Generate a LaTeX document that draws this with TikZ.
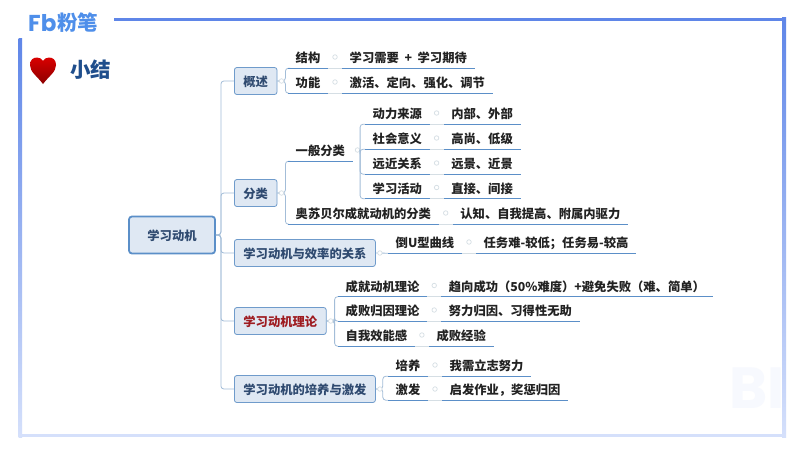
\documentclass[tikz,border=0pt]{standalone}
\usepackage{fontspec}
\setmainfont{Noto Sans CJK SC}
\newfontfamily\logofont{Poppins}
\usetikzlibrary{positioning}

\definecolor{framecol}{HTML}{5F86E8}
\definecolor{framepale}{HTML}{D5E0FB}
\definecolor{boxfill}{HTML}{DFE8F3}
\definecolor{boxline}{HTML}{6F9BCB}
\definecolor{rootline}{HTML}{5B8FC8}
\definecolor{boxtext}{HTML}{2F4A70}
\definecolor{ulinecol}{HTML}{5B8FC8}
\definecolor{branchcol}{HTML}{A3BDD8}
\definecolor{palecol}{HTML}{D5DEE4}
\definecolor{theorycol}{HTML}{9E1B20}
\definecolor{titlecol}{HTML}{1F4E8C}
\definecolor{logocol}{HTML}{4F8FEA}
\definecolor{leafcol}{HTML}{222222}

\tikzset{
	cjktext/.style = {font=\fontsize{12.3}{14}\selectfont\bfseries, text height=12.5pt, text depth=1pt},
	root/.style = {cjktext, draw=rootline, line width=1.8pt, fill=boxfill, text=boxtext, rounded corners=3pt, minimum width=86pt, minimum height=37pt},
	topic/.style = {cjktext, draw=boxline, line width=0.8pt, fill=boxfill, text=boxtext, rounded corners=2.5pt, inner xsep=9pt, inner ysep=0pt, minimum height=27pt, anchor=west},
	leaf/.style = {cjktext, text=leafcol, inner xsep=7.5pt, inner ysep=0pt, minimum height=22pt, anchor=west},
	uline/.style = {draw=ulinecol, line width=1pt},
	branch/.style = {draw=branchcol, line width=0.8pt, rounded corners=3pt},
	pale/.style = {draw=palecol, line width=0.8pt},
	knob/.style = {circle, draw=palecol, fill=white, line width=0.7pt, inner sep=0pt, minimum size=4.5pt}
}

\begin{document}
\begin{tikzpicture}[x=1pt, y=-1pt]
	\useasboundingbox[fill=white] (0,0) rectangle (800,450);
	% watermark
	\node[font=\fontsize{58}{58}\selectfont\bfseries\logofont, text=framepale!20, anchor=west, inner sep=0pt] (mark) at (729,388) {BI};
	% frame
	\shade[top color=framecol, bottom color=framepale] (18.5,38) rectangle (22,437);
	\shade[top color=framecol, bottom color=framepale] (782,17.5) rectangle (786,437);
	\fill[framepale] (18.5,433.5) rectangle (786,437);
	\fill[framecol] (114,17.5) rectangle (786,21);
	% logo and title
	\node[font=\fontsize{23}{23}\selectfont\bfseries\logofont, text=logocol, inner sep=0pt, anchor=west] (logo) at (28,23) {Fb};
	\node[font=\fontsize{20.5}{22}\selectfont\bfseries, text=logocol, inner sep=0pt, anchor=west] (brand) at (57,23) {粉笔};
	\shade[top color=red!85!black, bottom color=red!55!black] (43,84) .. controls (37,76) and (30,72) .. (30,65) .. controls (30,60) and (33,57.5) .. (37,57.5) .. controls (40,57.5) and (42,59) .. (43,61) .. controls (44,59) and (46,57.5) .. (49,57.5) .. controls (53,57.5) and (56,60) .. (56,65) .. controls (56,72) and (49,76) .. (43,84) -- cycle;
	\node[font=\fontsize{20.5}{22}\selectfont\bfseries, text=titlecol, inner sep=0pt, anchor=west] (title) at (70,70) {小结};

	% root and topics
	\node[root] (r) at (172,235) {学习动机};
	\node[topic] (t1) at (234,81) {概述};
	\node[topic] (t2) at (234,193) {分类};
	\node[topic] (t3) at (234,253) {学习动机与效率的关系};
	\node[topic, text=theorycol] (t4) at (234,321) {学习动机理论};
	\node[topic] (t5) at (234,389) {学习动机的培养与激发};
	\draw[branch] (r.east) -- ++(5,0) |- (t1.west);
	\draw[branch] (r.east) -- ++(5,0) |- (t2.west);
	\draw[branch] (r.east) -- ++(5,0) |- (t3.west);
	\draw[branch] (r.east) -- ++(5,0) |- (t4.west);
	\draw[branch] (r.east) -- ++(5,0) |- (t5.west);

	% overview
	\node[leaf] (a1) at (288,57) {结构};
	\node[leaf, right=14pt of a1] (a1v) {学习需要~~+~~学习期待};
	\node[leaf] (a2) at (288,82) {功能};
	\node[leaf, right=14pt of a2] (a2v) {激活、定向、强化、调节};
	\draw[branch] (t1.east) -- ++(8,0) |- (a1.south west);
	\draw[branch] (t1.east) -- ++(8,0) |- (a2.south west);

	% classes
	\node[leaf] (b1) at (288,150) {一般分类};
	\node[leaf] (b2) at (288,213) {奥苏贝尔成就动机的分类};
	\node[leaf, right=14pt of b2] (b2v) {认知、自我提高、附属内驱力};
	\draw[branch] (t2.east) -- ++(8,0) |- (b1.south west);
	\draw[branch] (t2.east) -- ++(8,0) |- (b2.south west);
	\node[knob] (k0) at (357.5,150) {};
	\node[leaf] (c1) at (365,113) {动力来源};
	\node[leaf, right=14pt of c1] (c1v) {内部、外部};
	\node[leaf] (c2) at (365,138) {社会意义};
	\node[leaf, right=14pt of c2] (c2v) {高尚、低级};
	\node[leaf] (c3) at (365,163) {远近关系};
	\node[leaf, right=14pt of c3] (c3v) {远景、近景};
	\node[leaf] (c4) at (365,187.5) {学习活动};
	\node[leaf, right=14pt of c4] (c4v) {直接、间接};
	\draw[branch] (c1.south west) -| (k0.east);
	\draw[branch] (c2.south west) -| (k0.east);
	\draw[branch] (c3.south west) -| (k0.east);
	\draw[branch] (c4.south west) -| (k0.east);

	% efficiency
	\node[leaf] (d1) at (388,242) {倒U型曲线};
	\node[leaf, right=14pt of d1] (d1v) {任务难-较低；任务易-较高};
	\draw[branch] (t3.east) -- (d1.south west);

	% theories
	\node[leaf] (e1) at (338,285.5) {成就动机理论};
	\node[leaf, right=14pt of e1] (e1v) {趋向成功（50\%难度）+避免失败（难、简单）};
	\node[leaf] (e2) at (338,310) {成败归因理论};
	\node[leaf, right=14pt of e2] (e2v) {努力归因、习得性无助};
	\node[leaf] (e3) at (338,335) {自我效能感};
	\node[leaf, right=14pt of e3] (e3v) {成败经验};
	\draw[branch] (t4.east) -- ++(8,0) |- (e1.south west);
	\draw[branch] (t4.east) -- ++(8,0) |- (e2.south west);
	\draw[branch] (t4.east) -- ++(8,0) |- (e3.south west);

	% fostering
	\node[leaf] (f1) at (388,365) {培养};
	\node[leaf, right=14pt of f1] (f1v) {我需立志努力};
	\node[leaf] (f2) at (388,389) {激发};
	\node[leaf, right=14pt of f2] (f2v) {启发作业，奖惩归因};
	\draw[branch] (t5.east) -- ++(7,0) |- (f1.south west);
	\draw[branch] (t5.east) -- ++(7,0) |- (f2.south west);

	% knobs on the topics
	\node[knob, right=1.5pt of t1] (kt1) {};
	\node[knob, right=1.5pt of t2] (kt2) {};
	\node[knob, right=1.5pt of t3] (kt3) {};
	\node[knob, right=1.5pt of t4] (kt4) {};
	\node[knob, right=1.5pt of t5] (kt5) {};

	% underlines of the leaves
	\draw[uline] (a1.south west) -- (a1.south east);
	\draw[uline] (a1v.south west) -- (a1v.south east);
	\draw[uline] (a2.south west) -- (a2.south east);
	\draw[uline] (a2v.south west) -- (a2v.south east);
	\draw[uline] (b1.south west) -- (b1.south east);
	\draw[uline] (b2.south west) -- (b2.south east);
	\draw[uline] (b2v.south west) -- (b2v.south east);
	\draw[uline] (c1.south west) -- (c1.south east);
	\draw[uline] (c1v.south west) -- (c1v.south east);
	\draw[uline] (c2.south west) -- (c2.south east);
	\draw[uline] (c2v.south west) -- (c2v.south east);
	\draw[uline] (c3.south west) -- (c3.south east);
	\draw[uline] (c3v.south west) -- (c3v.south east);
	\draw[uline] (c4.south west) -- (c4.south east);
	\draw[uline] (c4v.south west) -- (c4v.south east);
	\draw[uline] (d1.south west) -- (d1.south east);
	\draw[uline] (d1v.south west) -- (d1v.south east);
	\draw[uline] (e1.south west) -- (e1.south east);
	\draw[uline] (e1v.south west) -- (e1v.south east);
	\draw[uline] (e2.south west) -- (e2.south east);
	\draw[uline] (e2v.south west) -- (e2v.south east);
	\draw[uline] (e3.south west) -- (e3.south east);
	\draw[uline] (e3v.south west) -- (e3v.south east);
	\draw[uline] (f1.south west) -- (f1.south east);
	\draw[uline] (f1v.south west) -- (f1v.south east);
	\draw[uline] (f2.south west) -- (f2.south east);
	\draw[uline] (f2v.south west) -- (f2v.south east);

	% pale links with their knobs
	\draw[pale] (a1.south east) -- (a1v.south west);
	\draw[pale] (a2.south east) -- (a2v.south west);
	\draw[pale] (b2.south east) -- (b2v.south west);
	\draw[pale] (c1.south east) -- (c1v.south west);
	\draw[pale] (c2.south east) -- (c2v.south west);
	\draw[pale] (c3.south east) -- (c3v.south west);
	\draw[pale] (c4.south east) -- (c4v.south west);
	\draw[pale] (d1.south east) -- (d1v.south west);
	\draw[pale] (e1.south east) -- (e1v.south west);
	\draw[pale] (e2.south east) -- (e2v.south west);
	\draw[pale] (e3.south east) -- (e3v.south west);
	\draw[pale] (f1.south east) -- (f1v.south west);
	\draw[pale] (f2.south east) -- (f2v.south west);
	\path (a1) -- node[knob] (k1) {} (a1v);
	\path (a2) -- node[knob] (k2) {} (a2v);
	\path (b2) -- node[knob] (k3) {} (b2v);
	\path (c1) -- node[knob] (k4) {} (c1v);
	\path (c2) -- node[knob] (k5) {} (c2v);
	\path (c3) -- node[knob] (k6) {} (c3v);
	\path (c4) -- node[knob] (k7) {} (c4v);
	\path (d1) -- node[knob] (k8) {} (d1v);
	\path (e1) -- node[knob] (k9) {} (e1v);
	\path (e2) -- node[knob] (k10) {} (e2v);
	\path (e3) -- node[knob] (k11) {} (e3v);
	\path (f1) -- node[knob] (k12) {} (f1v);
	\path (f2) -- node[knob] (k13) {} (f2v);
\end{tikzpicture}
\end{document}
